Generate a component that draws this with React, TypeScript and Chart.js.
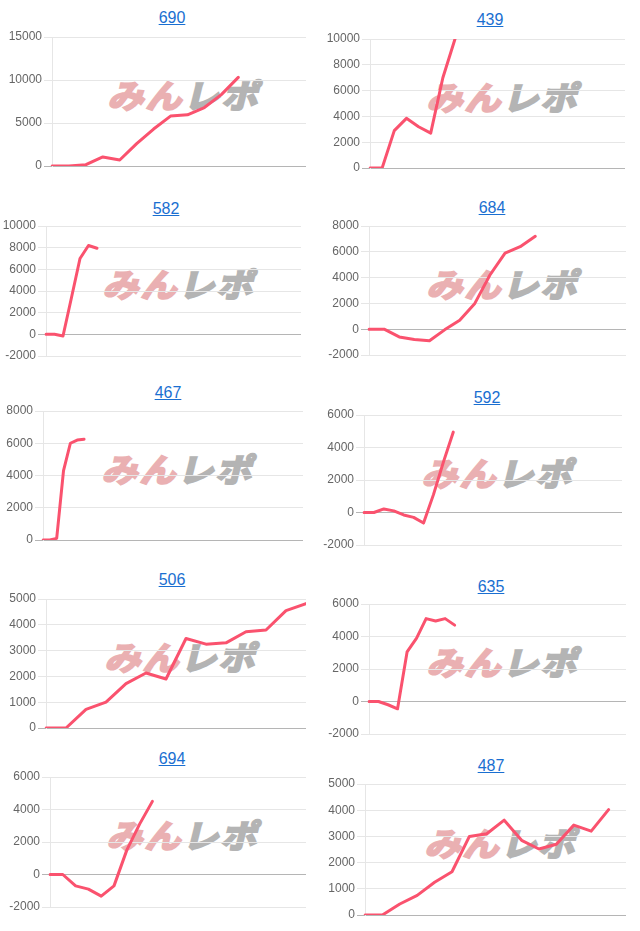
import React, { useEffect, useRef } from "react";
import { Chart, registerables } from "chart.js";

Chart.register(...registerables);

// ---- data ----
const titles = ["690", "439", "582", "684", "467", "592", "506", "635", "694", "487"];

const values690 = [0, 0, 150, 1050, 700, 2600, 4300, 5800, 5950, 6800, 8300, 10300];
const values439 = [0, 0, 2900, 3850, 3200, 2700, 7000, 10000];
const values582 = [0, 0, -150, 3400, 7000, 8200, 7950];
const values684 = [0, 0, -600, -800, -900, -50, 700, 2000, 4200, 5900, 6400, 7200];
const values467 = [0, 0, 100, 4300, 6000, 6200, 6250];
const values592 = [0, 0, 220, 100, -150, -300, -650, 1100, 3100, 4950];
const values506 = [0, 0, 720, 1000, 1720, 2130, 1900, 3470, 3250, 3300, 3730, 3800, 4550, 4820];
const values635 = [0, 0, -200, -450, 3050, 3900, 5100, 4950, 5100, 4700];
const values694 = [0, 0, -700, -900, -1330, -700, 1500, 3100, 4500];
const values487 = [0, 0, 420, 750, 1250, 1650, 3000, 3100, 3620, 2850, 2520, 2700, 3430, 3200, 4020];

const seriesList = [values690, values439, values582, values684, values467, values592, values506, values635, values694, values487];

const categoryCounts = [16, 22, 31, 18, 39, 27, 14, 28, 21, 16];
const yMins = [0, 0, -2000, -2000, 0, -2000, 0, -2000, -2000, 0];
const yMaxs = [15000, 10000, 10000, 8000, 8000, 6000, 5000, 6000, 6000, 5000];
const ySteps = [5000, 2000, 2000, 2000, 2000, 2000, 1000, 2000, 2000, 1000];

// ---- layout (plot area left, right, top, bottom; canvas left; title center x, y) ----
const boxes = [
  { l: 52, r: 306, t: 37, b: 166, c: 0, tx: 172, ty: 18 },
  { l: 370, r: 625, t: 39, b: 168, c: 320, tx: 490, ty: 20 },
  { l: 46, r: 301, t: 226, b: 356, c: 0, tx: 166, ty: 209 },
  { l: 369, r: 626, t: 226, b: 355, c: 320, tx: 492, ty: 208 },
  { l: 43, r: 303, t: 411, b: 540, c: 0, tx: 168, ty: 393 },
  { l: 364, r: 622, t: 415, b: 545, c: 320, tx: 487, ty: 398 },
  { l: 46, r: 306, t: 599, b: 728, c: 0, tx: 172, ty: 580 },
  { l: 369, r: 626, t: 604, b: 734, c: 320, tx: 491, ty: 587 },
  { l: 50, r: 306, t: 777, b: 907, c: 0, tx: 172, ty: 759 },
  { l: 365, r: 626, t: 784, b: 915, c: 320, tx: 491, ty: 766 },
];

const TOP_PAD = 10;
const X_AXIS_H = 20;

function MiniChart({ idx }: { idx: number }) {
  const ref = useRef<HTMLCanvasElement | null>(null);
  const box = boxes[idx];
  const width = box.r - box.c;
  const height = box.b - box.t + TOP_PAD + X_AXIS_H;

  useEffect(() => {
    if (!ref.current) return;
    const labels = Array.from({ length: categoryCounts[idx] }, (_, i) => String(i + 1));
    const chart = new Chart(ref.current, {
      type: "line",
      data: {
        labels,
        datasets: [
          {
            data: seriesList[idx],
            borderColor: "rgb(250, 82, 110)",
            backgroundColor: "rgb(250, 82, 110)",
            borderWidth: 3,
            pointRadius: 0,
            pointHoverRadius: 0,
            tension: 0,
            fill: false,
            borderJoinStyle: "round",
            borderCapStyle: "round",
          },
        ],
      },
      options: {
        animation: false,
        responsive: false,
        devicePixelRatio: 1,
        layout: { padding: { top: TOP_PAD, right: 0, bottom: 0, left: 0 } },
        plugins: { legend: { display: false }, tooltip: { enabled: false }, title: { display: false } },
        scales: {
          x: {
            grid: { display: false },
            border: { display: false },
            ticks: { display: false },
            afterFit: (scale: any) => {
              scale.height = X_AXIS_H;
            },
          },
          y: {
            min: yMins[idx],
            max: yMaxs[idx],
            ticks: {
              stepSize: ySteps[idx],
              color: "#666",
              padding: 2,
              font: { family: "'Liberation Sans', Arial, sans-serif", size: 12 },
              callback: (v: any) => String(v),
            },
            grid: {
              color: (ctx: any) => (ctx.tick && ctx.tick.value === 0 ? "#b5b5b5" : "#e6e6e6"),
              lineWidth: 1,
              tickLength: 8,
            },
            border: { display: true, color: "#e6e6e6" },
            afterFit: (scale: any) => {
              scale.width = box.l - box.c;
            },
          },
        },
      },
    });
    return () => chart.destroy();
  }, [idx]);

  const wmX = (box.l + box.r) / 2 + 8;
  const wmY = (box.t + box.b) / 2 - 8;

  return (
    <>
      <a
        href="#"
        style={{
          position: "absolute",
          left: box.tx,
          top: box.ty - 10,
          transform: "translateX(-50%)",
          fontFamily: "'Liberation Sans', Arial, sans-serif",
          fontSize: 16,
          lineHeight: "20px",
          color: "#1a6fd1",
          textDecoration: "underline",
          whiteSpace: "nowrap",
        }}
      >
        {titles[idx]}
      </a>
      <div
        style={{
          position: "absolute",
          left: wmX,
          top: wmY,
          transform: "translate(-50%, -50%) skewX(-14deg) scaleY(0.9)",
          fontFamily: "'Noto Sans CJK JP', sans-serif",
          fontWeight: 700,
          fontSize: 36,
          lineHeight: 1,
          letterSpacing: 2,
          whiteSpace: "nowrap",
          userSelect: "none",
        }}
      >
        <span style={{ color: "#eab0b2", WebkitTextStroke: "2.5px #eab0b2" } as any}>みん</span>
        <span style={{ color: "#b4b4b4", WebkitTextStroke: "2.5px #b4b4b4" } as any}>レポ</span>
      </div>
      <canvas
        ref={ref}
        width={width}
        height={height}
        style={{
          position: "absolute",
          left: box.c,
          top: box.t - TOP_PAD,
          width,
          height,
        }}
      />
    </>
  );
}

export default function App() {
  return (
    <div
      style={{
        position: "absolute",
        left: 0,
        top: 0,
        width: 640,
        height: 931,
        background: "#fff",
        overflow: "hidden",
      }}
    >
      {titles.map((_, i) => (
        <MiniChart key={i} idx={i} />
      ))}
    </div>
  );
}
